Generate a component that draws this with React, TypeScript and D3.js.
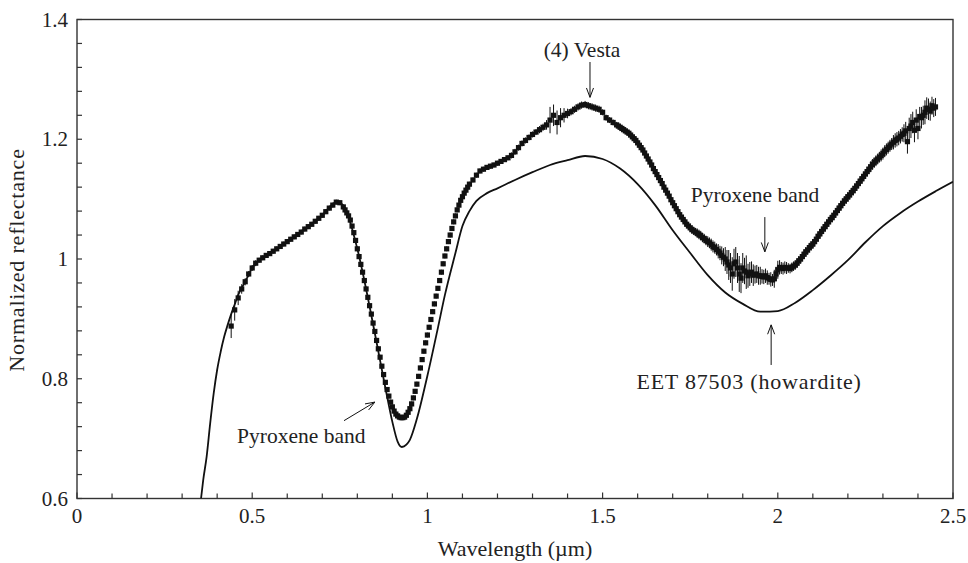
import React from "react";
import * as d3 from "d3";

// Vesta spectrum: [wavelength µm, normalized reflectance, 1-sigma error]
const vestaSpectrum: [number, number, number][] = [
  [0.44, 0.888, 0.02], [0.45, 0.915, 0.018], [0.46, 0.935, 0.012], [0.47, 0.95, 0.008],
  [0.48, 0.962, 0.006], [0.49, 0.975, 0.005], [0.5, 0.985, 0.005], [0.51, 0.993, 0.005],
  [0.52, 0.998, 0.004], [0.53, 1.002, 0.004], [0.54, 1.006, 0.004], [0.55, 1.009, 0.004],
  [0.56, 1.013, 0.004], [0.57, 1.017, 0.004], [0.58, 1.021, 0.004], [0.59, 1.025, 0.004],
  [0.6, 1.029, 0.004], [0.61, 1.033, 0.004], [0.62, 1.037, 0.004], [0.63, 1.041, 0.004],
  [0.64, 1.045, 0.004], [0.65, 1.05, 0.004], [0.66, 1.054, 0.004], [0.67, 1.058, 0.004],
  [0.68, 1.063, 0.004], [0.69, 1.068, 0.004], [0.7, 1.073, 0.004], [0.71, 1.079, 0.004],
  [0.72, 1.085, 0.004], [0.73, 1.09, 0.004], [0.74, 1.095, 0.004], [0.75, 1.094, 0.004],
  [0.76, 1.087, 0.004], [0.765, 1.082, 0.004], [0.77, 1.077, 0.004], [0.775, 1.072, 0.004],
  [0.78, 1.065, 0.004], [0.785, 1.055, 0.004], [0.79, 1.044, 0.004], [0.795, 1.031, 0.004],
  [0.8, 1.017, 0.004], [0.805, 1.004, 0.004], [0.81, 0.991, 0.004], [0.815, 0.978, 0.004],
  [0.82, 0.964, 0.004], [0.825, 0.95, 0.004], [0.83, 0.936, 0.004], [0.835, 0.922, 0.004],
  [0.84, 0.908, 0.004], [0.845, 0.893, 0.004], [0.85, 0.879, 0.004], [0.855, 0.864, 0.004],
  [0.86, 0.85, 0.004], [0.865, 0.836, 0.004], [0.87, 0.821, 0.004], [0.875, 0.807, 0.004],
  [0.88, 0.794, 0.004], [0.885, 0.782, 0.004], [0.89, 0.771, 0.004], [0.895, 0.761, 0.004],
  [0.9, 0.753, 0.004], [0.905, 0.746, 0.004], [0.91, 0.741, 0.004], [0.915, 0.738, 0.004],
  [0.92, 0.736, 0.004], [0.925, 0.735, 0.004], [0.93, 0.735, 0.004], [0.935, 0.736, 0.004],
  [0.94, 0.739, 0.004], [0.945, 0.744, 0.004], [0.95, 0.75, 0.004], [0.955, 0.758, 0.004],
  [0.96, 0.768, 0.004], [0.965, 0.779, 0.004], [0.97, 0.791, 0.004], [0.975, 0.804, 0.004],
  [0.98, 0.818, 0.004], [0.985, 0.832, 0.004], [0.99, 0.846, 0.004], [0.995, 0.86, 0.004],
  [1.0, 0.873, 0.004], [1.005, 0.886, 0.004], [1.01, 0.899, 0.004], [1.015, 0.912, 0.004],
  [1.02, 0.925, 0.004], [1.025, 0.938, 0.004], [1.03, 0.951, 0.004], [1.035, 0.964, 0.004],
  [1.04, 0.978, 0.004], [1.045, 0.992, 0.004], [1.05, 1.005, 0.004], [1.055, 1.017, 0.004],
  [1.06, 1.029, 0.004], [1.065, 1.04, 0.004], [1.07, 1.051, 0.004], [1.075, 1.062, 0.004],
  [1.08, 1.072, 0.004], [1.085, 1.082, 0.004], [1.09, 1.09, 0.004], [1.095, 1.098, 0.004],
  [1.1, 1.104, 0.004], [1.105, 1.11, 0.004], [1.11, 1.115, 0.004], [1.115, 1.12, 0.004],
  [1.12, 1.125, 0.004], [1.13, 1.132, 0.004], [1.14, 1.14, 0.004], [1.15, 1.147, 0.004],
  [1.16, 1.15, 0.004], [1.17, 1.153, 0.004], [1.18, 1.155, 0.004], [1.19, 1.157, 0.004],
  [1.2, 1.16, 0.004], [1.21, 1.163, 0.004], [1.22, 1.166, 0.004], [1.23, 1.169, 0.004],
  [1.24, 1.173, 0.005], [1.25, 1.179, 0.005], [1.26, 1.186, 0.005], [1.27, 1.193, 0.005],
  [1.28, 1.198, 0.005], [1.29, 1.203, 0.005], [1.3, 1.208, 0.005], [1.31, 1.212, 0.005],
  [1.32, 1.216, 0.006], [1.33, 1.22, 0.006], [1.34, 1.224, 0.008], [1.35, 1.232, 0.022],
  [1.36, 1.24, 0.018], [1.37, 1.228, 0.02], [1.38, 1.236, 0.016], [1.39, 1.24, 0.012],
  [1.4, 1.243, 0.008], [1.41, 1.246, 0.006], [1.42, 1.25, 0.006], [1.43, 1.254, 0.006],
  [1.44, 1.257, 0.006], [1.45, 1.258, 0.006], [1.46, 1.256, 0.006], [1.47, 1.254, 0.006],
  [1.48, 1.252, 0.006], [1.49, 1.25, 0.006], [1.5, 1.245, 0.005], [1.51, 1.236, 0.005],
  [1.52, 1.232, 0.005], [1.53, 1.228, 0.005], [1.54, 1.224, 0.005], [1.545, 1.222, 0.005],
  [1.55, 1.22, 0.005], [1.555, 1.218, 0.005], [1.56, 1.216, 0.005], [1.565, 1.214, 0.005],
  [1.57, 1.212, 0.005], [1.575, 1.21, 0.005], [1.58, 1.207, 0.005], [1.585, 1.204, 0.005],
  [1.59, 1.201, 0.005], [1.595, 1.198, 0.005], [1.6, 1.194, 0.005], [1.605, 1.19, 0.005],
  [1.61, 1.186, 0.005], [1.615, 1.182, 0.005], [1.62, 1.177, 0.005], [1.625, 1.172, 0.005],
  [1.63, 1.167, 0.005], [1.635, 1.162, 0.005], [1.64, 1.157, 0.005], [1.645, 1.151, 0.005],
  [1.65, 1.146, 0.005], [1.655, 1.141, 0.005], [1.66, 1.136, 0.005], [1.665, 1.131, 0.005],
  [1.67, 1.126, 0.005], [1.675, 1.12, 0.005], [1.68, 1.115, 0.005], [1.685, 1.11, 0.005],
  [1.69, 1.105, 0.005], [1.695, 1.099, 0.005], [1.7, 1.094, 0.006], [1.705, 1.089, 0.006],
  [1.71, 1.084, 0.006], [1.715, 1.079, 0.006], [1.72, 1.074, 0.006], [1.725, 1.07, 0.006],
  [1.73, 1.066, 0.006], [1.735, 1.062, 0.006], [1.74, 1.058, 0.006], [1.745, 1.055, 0.006],
  [1.75, 1.052, 0.007], [1.755, 1.049, 0.007], [1.76, 1.047, 0.007], [1.765, 1.045, 0.007],
  [1.77, 1.043, 0.008], [1.775, 1.041, 0.008], [1.78, 1.039, 0.008], [1.785, 1.036, 0.008],
  [1.79, 1.034, 0.008], [1.795, 1.031, 0.008], [1.8, 1.029, 0.009], [1.805, 1.027, 0.009],
  [1.81, 1.024, 0.01], [1.815, 1.021, 0.01], [1.82, 1.019, 0.01], [1.825, 1.016, 0.01],
  [1.83, 1.013, 0.012], [1.835, 1.01, 0.012], [1.84, 1.006, 0.015], [1.845, 1.003, 0.015],
  [1.85, 1.0, 0.02], [1.855, 0.995, 0.02], [1.86, 0.99, 0.025], [1.865, 0.985, 0.025],
  [1.87, 0.975, 0.028], [1.875, 0.992, 0.025], [1.88, 0.995, 0.025], [1.885, 0.985, 0.025],
  [1.89, 0.975, 0.03], [1.895, 0.968, 0.025], [1.9, 0.985, 0.025], [1.905, 0.98, 0.022],
  [1.91, 0.978, 0.028], [1.915, 0.972, 0.02], [1.92, 0.975, 0.02], [1.925, 0.978, 0.018],
  [1.93, 0.973, 0.018], [1.935, 0.974, 0.015], [1.94, 0.975, 0.015], [1.945, 0.972, 0.015],
  [1.95, 0.972, 0.015], [1.955, 0.971, 0.012], [1.96, 0.97, 0.012], [1.965, 0.972, 0.012],
  [1.97, 0.969, 0.012], [1.975, 0.967, 0.01], [1.98, 0.966, 0.012], [1.985, 0.965, 0.01],
  [1.99, 0.967, 0.015], [1.995, 0.975, 0.012], [2.0, 0.982, 0.015], [2.005, 0.986, 0.012],
  [2.01, 0.985, 0.01], [2.015, 0.984, 0.01], [2.02, 0.986, 0.01], [2.025, 0.985, 0.01],
  [2.03, 0.985, 0.008], [2.035, 0.984, 0.008], [2.04, 0.986, 0.008], [2.045, 0.988, 0.008],
  [2.05, 0.99, 0.008], [2.055, 0.993, 0.008], [2.06, 0.997, 0.008], [2.065, 1.0, 0.008],
  [2.07, 1.004, 0.008], [2.075, 1.008, 0.008], [2.08, 1.012, 0.008], [2.085, 1.015, 0.008],
  [2.09, 1.019, 0.008], [2.095, 1.022, 0.008], [2.1, 1.025, 0.008], [2.105, 1.029, 0.008],
  [2.11, 1.033, 0.008], [2.115, 1.038, 0.008], [2.12, 1.042, 0.008], [2.125, 1.046, 0.008],
  [2.13, 1.05, 0.008], [2.135, 1.054, 0.008], [2.14, 1.058, 0.008], [2.145, 1.062, 0.008],
  [2.15, 1.066, 0.008], [2.155, 1.069, 0.008], [2.16, 1.073, 0.008], [2.165, 1.077, 0.008],
  [2.17, 1.081, 0.008], [2.175, 1.085, 0.008], [2.18, 1.089, 0.008], [2.185, 1.093, 0.008],
  [2.19, 1.097, 0.008], [2.195, 1.1, 0.008], [2.2, 1.104, 0.008], [2.205, 1.107, 0.008],
  [2.21, 1.111, 0.008], [2.215, 1.114, 0.008], [2.22, 1.118, 0.008], [2.225, 1.122, 0.008],
  [2.23, 1.126, 0.008], [2.235, 1.13, 0.008], [2.24, 1.134, 0.008], [2.245, 1.138, 0.008],
  [2.25, 1.142, 0.008], [2.255, 1.146, 0.008], [2.26, 1.15, 0.008], [2.265, 1.154, 0.009],
  [2.27, 1.158, 0.009], [2.275, 1.161, 0.009], [2.28, 1.164, 0.009], [2.285, 1.167, 0.009],
  [2.29, 1.17, 0.009], [2.295, 1.173, 0.01], [2.3, 1.176, 0.01], [2.305, 1.18, 0.01],
  [2.31, 1.183, 0.01], [2.315, 1.186, 0.01], [2.32, 1.189, 0.01], [2.325, 1.192, 0.01],
  [2.33, 1.195, 0.012], [2.335, 1.198, 0.012], [2.34, 1.2, 0.012], [2.345, 1.202, 0.012],
  [2.35, 1.205, 0.012], [2.355, 1.208, 0.012], [2.36, 1.21, 0.015], [2.365, 1.214, 0.015],
  [2.37, 1.196, 0.02], [2.375, 1.218, 0.018], [2.38, 1.222, 0.02], [2.385, 1.228, 0.018],
  [2.39, 1.215, 0.02], [2.395, 1.232, 0.018], [2.4, 1.218, 0.018], [2.405, 1.238, 0.016],
  [2.41, 1.236, 0.018], [2.415, 1.24, 0.016], [2.42, 1.245, 0.02], [2.425, 1.252, 0.018],
  [2.43, 1.25, 0.018], [2.435, 1.247, 0.016], [2.44, 1.256, 0.015], [2.445, 1.252, 0.015],
  [2.45, 1.254, 0.015],
];

// EET 87503 (howardite) laboratory spectrum
const howWave = [
  0.354, 0.36, 0.37, 0.38, 0.39, 0.4, 0.41, 0.42, 0.43, 0.44, 0.45, 0.46, 0.48, 0.5, 0.52, 0.55,
  0.6, 0.65, 0.7, 0.74, 0.75, 0.77, 0.8, 0.85, 0.88, 0.9, 0.915, 0.927, 0.94, 0.95, 0.97, 1.0,
  1.03, 1.05, 1.08, 1.1, 1.12, 1.14, 1.17, 1.2, 1.25, 1.3, 1.35, 1.4, 1.45, 1.5, 1.55, 1.6,
  1.65, 1.7, 1.75, 1.8, 1.85, 1.9, 1.95, 2.0, 2.05, 2.1, 2.15, 2.2, 2.25, 2.3, 2.35, 2.4, 2.45, 2.5,
];
const howRefl = [
  0.6, 0.63, 0.67, 0.725, 0.775, 0.815, 0.845, 0.87, 0.89, 0.908, 0.924, 0.94, 0.962, 0.985, 0.998, 1.009,
  1.029, 1.05, 1.073, 1.095, 1.094, 1.078, 1.017, 0.876, 0.785, 0.728, 0.695, 0.686, 0.69, 0.698, 0.733, 0.805,
  0.885, 0.94, 1.01, 1.055, 1.08, 1.097, 1.11, 1.118, 1.132, 1.145, 1.157, 1.165, 1.172, 1.167, 1.151, 1.125,
  1.09, 1.048, 1.01, 0.973, 0.944, 0.925, 0.912, 0.913, 0.927, 0.948, 0.972, 0.998, 1.028, 1.055, 1.077, 1.096, 1.113, 1.129,
];

const xTickLabels = ["0", "0.5", "1", "1.5", "2", "2.5"];
const yTickLabels = ["0.6", "0.8", "1", "1.2", "1.4"];

const W = 968;
const H = 563;
const M = { left: 77, right: 953, top: 19.5, bottom: 498.5 };
const FONT = "Liberation Serif, Times New Roman, serif";

export default function App() {
  const x = d3.scaleLinear().domain([0, 2.5]).range([M.left, M.right]);
  const y = d3.scaleLinear().domain([0.6, 1.4]).range([M.bottom, M.top]);

  const howLine = d3
    .line<number>()
    .x((_, i) => x(howWave[i]))
    .y((d) => y(d))
    .curve(d3.curveMonotoneX)(howRefl) as string;

  const xMinor = d3.range(0, 26).map((i) => i / 10);
  const yMinor = d3.range(0, 21).map((i) => 0.6 + i * 0.04);

  const axisColor = "#333";
  const ink = "#111";
  const textColor = "#222";

  const arrow = (x1: number, y1: number, x2: number, y2: number, key: string) => {
    const ang = Math.atan2(y2 - y1, x2 - x1);
    const len = 10;
    const spread = 0.36;
    const a1 = [x2 - len * Math.cos(ang - spread), y2 - len * Math.sin(ang - spread)];
    const a2 = [x2 - len * Math.cos(ang + spread), y2 - len * Math.sin(ang + spread)];
    return (
      <g key={key} stroke={ink} strokeWidth={1} fill="none">
        <line x1={x1} y1={y1} x2={x2} y2={y2} />
        <path d={`M${a1[0]},${a1[1]}L${x2},${y2}L${a2[0]},${a2[1]}`} />
      </g>
    );
  };

  return (
    <svg width={W} height={H} style={{ position: "absolute", left: 0, top: 0, background: "#fff" }}>
      <rect
        x={M.left}
        y={M.top}
        width={M.right - M.left}
        height={M.bottom - M.top}
        fill="none"
        stroke={axisColor}
        strokeWidth={1.4}
      />
      {xMinor.map((v, i) => (
        <line
          key={"xt" + i}
          x1={x(v)}
          x2={x(v)}
          y1={M.bottom}
          y2={M.bottom - (i % 5 === 0 ? 6 : 5)}
          stroke={axisColor}
          strokeWidth={1.2}
        />
      ))}
      {yMinor.map((v, i) => (
        <line
          key={"yt" + i}
          x1={M.left}
          x2={M.left + 5}
          y1={y(v)}
          y2={y(v)}
          stroke={axisColor}
          strokeWidth={1.2}
        />
      ))}
      {xTickLabels.map((t) => (
        <text
          key={"xl" + t}
          x={x(+t)}
          y={M.bottom + 24}
          textAnchor="middle"
          fontFamily={FONT}
          fontSize={21}
          fill={textColor}
        >
          {t}
        </text>
      ))}
      {yTickLabels.map((t) => (
        <text
          key={"yl" + t}
          x={M.left - 9}
          y={y(+t) + 7}
          textAnchor="end"
          fontFamily={FONT}
          fontSize={21}
          fill={textColor}
        >
          {t}
        </text>
      ))}
      <text
        x={515}
        y={556}
        textAnchor="middle"
        fontFamily={FONT}
        fontSize={22}
        fill={textColor}
      >
        Wavelength (µm)
      </text>
      <text
        transform={`translate(24,${(M.top + M.bottom) / 2 + 1}) rotate(-90)`}
        textAnchor="middle"
        fontFamily={FONT}
        fontSize={22}
        letterSpacing={0.8}
        fill={textColor}
      >
        Normalized reflectance
      </text>

      <defs>
        <clipPath id="plotclip">
          <rect x={M.left} y={M.top} width={M.right - M.left} height={M.bottom - M.top} />
        </clipPath>
      </defs>

      <g clipPath="url(#plotclip)">
        <path d={howLine} fill="none" stroke={ink} strokeWidth={1.8} />
        {vestaSpectrum.map(([w, r, e], i) => (
          <line
            key={"e" + i}
            x1={x(w)}
            x2={x(w)}
            y1={y(r - e)}
            y2={y(r + e)}
            stroke={ink}
            strokeWidth={1}
          />
        ))}
        {vestaSpectrum.map(([w, r], i) => (
          <rect key={"p" + i} x={x(w) - 2.6} y={y(r) - 2.6} width={5.2} height={5.2} fill={ink} />
        ))}
      </g>

      <text x={x(1.464) - 8} y={y(1.337)} textAnchor="middle" fontFamily={FONT} fontSize={21.5} fill={textColor}>
        (4) Vesta
      </text>
      {arrow(x(1.464), y(1.329), x(1.464), y(1.27), "a1")}
      <text x={x(1.935)} y={y(1.095)} textAnchor="middle" fontFamily={FONT} fontSize={21.5} fill={textColor}>
        Pyroxene band
      </text>
      {arrow(x(1.963), y(1.07), x(1.963), y(1.012), "a2")}
      <text
        x={x(1.918)}
        y={y(0.783)}
        textAnchor="middle"
        fontFamily={FONT}
        fontSize={22}
        letterSpacing={0.8}
        fill={textColor}
      >
        EET 87503 (howardite)
      </text>
      {arrow(x(1.981), y(0.823), x(1.981), y(0.89), "a3")}
      <text x={x(0.64)} y={y(0.693)} textAnchor="middle" fontFamily={FONT} fontSize={21.5} fill={textColor}>
        Pyroxene band
      </text>
      {arrow(x(0.762), y(0.73), x(0.85), y(0.761), "a4")}
    </svg>
  );
}
